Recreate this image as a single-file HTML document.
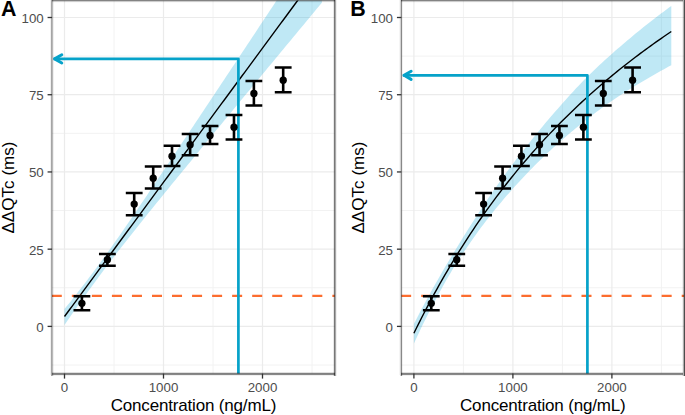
<!DOCTYPE html>
<html><head><meta charset="utf-8"><style>
html,body{margin:0;padding:0;background:#fff;}
body{width:685px;height:415px;overflow:hidden;}
svg{display:block;}
text{font-family:"Liberation Sans",sans-serif;}
.tk{font-size:13.3px;fill:#4D4D4D;}
.ti{font-size:17px;fill:#000;letter-spacing:-0.17px;}
.tag{font-size:21.4px;font-weight:bold;fill:#000;}
</style></head><body>
<svg width="685" height="415" viewBox="0 0 685 415">
<clipPath id="clip0"><rect x="51.98" y="0.5" width="282.88" height="373.1"/></clipPath>
<g clip-path="url(#clip0)"><line x1="114.00" y1="0.5" x2="114.00" y2="373.6" stroke="#F2F2F2" stroke-width="1"/><line x1="213.00" y1="0.5" x2="213.00" y2="373.6" stroke="#F2F2F2" stroke-width="1"/><line x1="312.00" y1="0.5" x2="312.00" y2="373.6" stroke="#F2F2F2" stroke-width="1"/><line x1="51.98" y1="365.01" x2="334.86" y2="365.01" stroke="#F2F2F2" stroke-width="1"/><line x1="51.98" y1="287.79" x2="334.86" y2="287.79" stroke="#F2F2F2" stroke-width="1"/><line x1="51.98" y1="210.56" x2="334.86" y2="210.56" stroke="#F2F2F2" stroke-width="1"/><line x1="51.98" y1="133.34" x2="334.86" y2="133.34" stroke="#F2F2F2" stroke-width="1"/><line x1="51.98" y1="56.11" x2="334.86" y2="56.11" stroke="#F2F2F2" stroke-width="1"/><line x1="64.50" y1="0.5" x2="64.50" y2="373.6" stroke="#EBEBEB" stroke-width="1.2"/><line x1="163.50" y1="0.5" x2="163.50" y2="373.6" stroke="#EBEBEB" stroke-width="1.2"/><line x1="262.50" y1="0.5" x2="262.50" y2="373.6" stroke="#EBEBEB" stroke-width="1.2"/><line x1="51.98" y1="326.40" x2="334.86" y2="326.40" stroke="#EBEBEB" stroke-width="1.2"/><line x1="51.98" y1="249.17" x2="334.86" y2="249.17" stroke="#EBEBEB" stroke-width="1.2"/><line x1="51.98" y1="171.95" x2="334.86" y2="171.95" stroke="#EBEBEB" stroke-width="1.2"/><line x1="51.98" y1="94.72" x2="334.86" y2="94.72" stroke="#EBEBEB" stroke-width="1.2"/><line x1="51.98" y1="17.50" x2="334.86" y2="17.50" stroke="#EBEBEB" stroke-width="1.2"/><path d="M64.50,309.09 L67.07,305.87 L69.65,302.63 L72.22,299.39 L74.80,296.13 L77.37,292.84 L79.94,289.55 L82.52,286.22 L85.09,282.88 L87.67,279.51 L90.24,276.11 L92.81,272.69 L95.39,269.24 L97.96,265.75 L100.54,262.24 L103.11,258.70 L105.68,255.13 L108.26,251.53 L110.83,247.91 L113.41,244.26 L115.98,240.59 L118.55,236.90 L121.13,233.19 L123.70,229.46 L126.28,225.72 L128.85,221.97 L131.42,218.20 L134.00,214.43 L136.57,210.64 L139.15,206.85 L141.72,203.04 L144.29,199.24 L146.87,195.42 L149.44,191.60 L152.02,187.77 L154.59,183.94 L157.16,180.11 L159.74,176.27 L162.31,172.43 L164.89,168.58 L167.46,164.74 L170.03,160.89 L172.61,157.03 L175.18,153.18 L177.76,149.32 L180.33,145.46 L182.90,141.60 L185.48,137.74 L188.05,133.88 L190.63,130.01 L193.20,126.15 L195.77,122.28 L198.35,118.41 L200.92,114.54 L203.50,110.67 L206.07,106.80 L208.64,102.93 L211.22,99.06 L213.79,95.18 L216.37,91.31 L218.94,87.43 L221.51,83.56 L224.09,79.68 L226.66,75.81 L229.24,71.93 L231.81,68.05 L234.38,64.17 L236.96,60.29 L239.53,56.42 L242.11,52.54 L244.68,48.66 L247.25,44.78 L249.83,40.90 L252.40,37.02 L254.98,33.14 L257.55,29.25 L260.12,25.37 L262.70,21.49 L265.27,17.61 L267.85,13.73 L270.42,9.84 L272.99,5.96 L275.57,2.08 L278.14,-1.80 L280.72,-5.69 L283.29,-9.57 L285.86,-13.46 L288.44,-17.34 L291.01,-21.22 L293.59,-25.11 L296.16,-28.99 L298.73,-32.88 L301.31,-36.76 L303.88,-40.65 L306.46,-44.53 L309.03,-48.42 L311.60,-52.30 L314.18,-56.19 L316.75,-60.07 L319.33,-63.96 L321.90,-67.84 L321.90,2.66 L319.33,5.76 L316.75,8.86 L314.18,11.96 L311.60,15.07 L309.03,18.17 L306.46,21.28 L303.88,24.38 L301.31,27.48 L298.73,30.59 L296.16,33.69 L293.59,36.80 L291.01,39.90 L288.44,43.01 L285.86,46.11 L283.29,49.22 L280.72,52.33 L278.14,55.43 L275.57,58.54 L272.99,61.65 L270.42,64.75 L267.85,67.86 L265.27,70.97 L262.70,74.08 L260.12,77.19 L257.55,80.30 L254.98,83.41 L252.40,86.52 L249.83,89.63 L247.25,92.74 L244.68,95.85 L242.11,98.96 L239.53,102.08 L236.96,105.19 L234.38,108.30 L231.81,111.42 L229.24,114.53 L226.66,117.65 L224.09,120.77 L221.51,123.89 L218.94,127.00 L216.37,130.12 L213.79,133.24 L211.22,136.37 L208.64,139.49 L206.07,142.61 L203.50,145.74 L200.92,148.86 L198.35,151.99 L195.77,155.12 L193.20,158.25 L190.63,161.38 L188.05,164.52 L185.48,167.65 L182.90,170.79 L180.33,173.93 L177.76,177.08 L175.18,180.22 L172.61,183.37 L170.03,186.52 L167.46,189.68 L164.89,192.83 L162.31,196.00 L159.74,199.16 L157.16,202.33 L154.59,205.51 L152.02,208.69 L149.44,211.87 L146.87,215.07 L144.29,218.27 L141.72,221.47 L139.15,224.69 L136.57,227.91 L134.00,231.14 L131.42,234.38 L128.85,237.64 L126.28,240.91 L123.70,244.19 L121.13,247.48 L118.55,250.79 L115.98,254.12 L113.41,257.46 L110.83,260.83 L108.26,264.21 L105.68,267.61 L103.11,271.04 L100.54,274.49 L97.96,277.96 L95.39,281.45 L92.81,284.97 L90.24,288.50 L87.67,292.07 L85.09,295.65 L82.52,299.25 L79.94,302.87 L77.37,306.51 L74.80,310.17 L72.22,313.84 L69.65,317.53 L67.07,321.23 L64.50,324.95Z" fill="#00A5D7" fill-opacity="0.25"/><path d="M64.50,316.52 L67.07,313.03 L69.65,309.54 L72.22,306.05 L74.80,302.56 L77.37,299.07 L79.94,295.58 L82.52,292.09 L85.09,288.60 L87.67,285.12 L90.24,281.63 L92.81,278.14 L95.39,274.65 L97.96,271.16 L100.54,267.67 L103.11,264.18 L105.68,260.69 L108.26,257.20 L110.83,253.72 L113.41,250.23 L115.98,246.74 L118.55,243.25 L121.13,239.76 L123.70,236.27 L126.28,232.78 L128.85,229.29 L131.42,225.81 L134.00,222.32 L136.57,218.83 L139.15,215.34 L141.72,211.85 L144.29,208.36 L146.87,204.87 L149.44,201.38 L152.02,197.89 L154.59,194.41 L157.16,190.92 L159.74,187.43 L162.31,183.94 L164.89,180.45 L167.46,176.96 L170.03,173.47 L172.61,169.98 L175.18,166.50 L177.76,163.01 L180.33,159.52 L182.90,156.03 L185.48,152.54 L188.05,149.05 L190.63,145.56 L193.20,142.07 L195.77,138.58 L198.35,135.10 L200.92,131.61 L203.50,128.12 L206.07,124.63 L208.64,121.14 L211.22,117.65 L213.79,114.16 L216.37,110.67 L218.94,107.18 L221.51,103.70 L224.09,100.21 L226.66,96.72 L229.24,93.23 L231.81,89.74 L234.38,86.25 L236.96,82.76 L239.53,79.27 L242.11,75.79 L244.68,72.30 L247.25,68.81 L249.83,65.32 L252.40,61.83 L254.98,58.34 L257.55,54.85 L260.12,51.36 L262.70,47.87 L265.27,44.39 L267.85,40.90 L270.42,37.41 L272.99,33.92 L275.57,30.43 L278.14,26.94 L280.72,23.45 L283.29,19.96 L285.86,16.47 L288.44,12.99 L291.01,9.50 L293.59,6.01 L296.16,2.52 L298.73,-0.97 L301.31,-4.46 L303.88,-7.95 L306.46,-11.44 L309.03,-14.92 L311.60,-18.41 L314.18,-21.90 L316.75,-25.39 L319.33,-28.88 L321.90,-32.37" fill="none" stroke="#000" stroke-width="1.4"/><line x1="51.78" y1="295.96" x2="334.86" y2="295.96" stroke="#FC6D2F" stroke-width="2.3" stroke-dasharray="10.02 10.02"/><path d="M238.40,375.6 L238.40,58.85 L53.48,58.85" fill="none" stroke="#06A2C9" stroke-width="2.7" stroke-linejoin="round"/><path d="M61.78,54.75 L54.68,58.85 L61.78,62.95" fill="none" stroke="#06A2C9" stroke-width="3" stroke-linejoin="round" stroke-linecap="round"/><line x1="81.90" y1="296.30" x2="81.90" y2="310.30" stroke="#000" stroke-width="2.6"/><line x1="73.50" y1="296.30" x2="90.30" y2="296.30" stroke="#000" stroke-width="2.5"/><line x1="73.50" y1="310.30" x2="90.30" y2="310.30" stroke="#000" stroke-width="2.5"/><circle cx="81.90" cy="303.29" r="3.65" fill="#000"/><line x1="107.37" y1="254.00" x2="107.37" y2="265.80" stroke="#000" stroke-width="2.6"/><line x1="98.97" y1="254.00" x2="115.77" y2="254.00" stroke="#000" stroke-width="2.5"/><line x1="98.97" y1="265.80" x2="115.77" y2="265.80" stroke="#000" stroke-width="2.5"/><circle cx="107.37" cy="259.68" r="3.65" fill="#000"/><line x1="134.20" y1="193.00" x2="134.20" y2="215.20" stroke="#000" stroke-width="2.6"/><line x1="125.80" y1="193.00" x2="142.60" y2="193.00" stroke="#000" stroke-width="2.5"/><line x1="125.80" y1="215.20" x2="142.60" y2="215.20" stroke="#000" stroke-width="2.5"/><circle cx="134.20" cy="204.08" r="3.65" fill="#000"/><line x1="153.20" y1="166.50" x2="153.20" y2="188.50" stroke="#000" stroke-width="2.6"/><line x1="144.80" y1="166.50" x2="161.60" y2="166.50" stroke="#000" stroke-width="2.5"/><line x1="144.80" y1="188.50" x2="161.60" y2="188.50" stroke="#000" stroke-width="2.5"/><circle cx="153.20" cy="178.13" r="3.65" fill="#000"/><line x1="172.01" y1="145.70" x2="172.01" y2="166.10" stroke="#000" stroke-width="2.6"/><line x1="163.61" y1="145.70" x2="180.41" y2="145.70" stroke="#000" stroke-width="2.5"/><line x1="163.61" y1="166.10" x2="180.41" y2="166.10" stroke="#000" stroke-width="2.5"/><circle cx="172.01" cy="156.20" r="3.65" fill="#000"/><line x1="190.13" y1="134.10" x2="190.13" y2="155.30" stroke="#000" stroke-width="2.6"/><line x1="181.73" y1="134.10" x2="198.53" y2="134.10" stroke="#000" stroke-width="2.5"/><line x1="181.73" y1="155.30" x2="198.53" y2="155.30" stroke="#000" stroke-width="2.5"/><circle cx="190.13" cy="144.77" r="3.65" fill="#000"/><line x1="210.03" y1="126.00" x2="210.03" y2="144.10" stroke="#000" stroke-width="2.6"/><line x1="201.63" y1="126.00" x2="218.43" y2="126.00" stroke="#000" stroke-width="2.5"/><line x1="201.63" y1="144.10" x2="218.43" y2="144.10" stroke="#000" stroke-width="2.5"/><circle cx="210.03" cy="135.50" r="3.65" fill="#000"/><line x1="233.99" y1="114.90" x2="233.99" y2="139.50" stroke="#000" stroke-width="2.6"/><line x1="225.59" y1="114.90" x2="242.39" y2="114.90" stroke="#000" stroke-width="2.5"/><line x1="225.59" y1="139.50" x2="242.39" y2="139.50" stroke="#000" stroke-width="2.5"/><circle cx="233.99" cy="127.16" r="3.65" fill="#000"/><line x1="253.89" y1="81.10" x2="253.89" y2="105.50" stroke="#000" stroke-width="2.6"/><line x1="245.49" y1="81.10" x2="262.29" y2="81.10" stroke="#000" stroke-width="2.5"/><line x1="245.49" y1="105.50" x2="262.29" y2="105.50" stroke="#000" stroke-width="2.5"/><circle cx="253.89" cy="93.49" r="3.65" fill="#000"/><line x1="283.19" y1="67.60" x2="283.19" y2="92.20" stroke="#000" stroke-width="2.6"/><line x1="274.79" y1="67.60" x2="291.59" y2="67.60" stroke="#000" stroke-width="2.5"/><line x1="274.79" y1="92.20" x2="291.59" y2="92.20" stroke="#000" stroke-width="2.5"/><circle cx="283.19" cy="80.21" r="3.65" fill="#000"/></g>
<rect x="50" y="0" width="1" height="375" fill="#000" fill-opacity="0.059"/>
<rect x="51" y="0" width="1" height="376" fill="#000" fill-opacity="0.353"/>
<rect x="52" y="0" width="1" height="376" fill="#000" fill-opacity="0.275"/>
<rect x="53" y="0" width="1" height="376" fill="#000" fill-opacity="0.059"/>
<rect x="333" y="0" width="1" height="376" fill="#000" fill-opacity="0.090"/>
<rect x="334" y="0" width="1" height="376" fill="#000" fill-opacity="0.533"/>
<rect x="335" y="0" width="1" height="376" fill="#000" fill-opacity="0.341"/>
<rect x="336" y="0" width="1" height="376" fill="#000" fill-opacity="0.059"/>
<rect x="52" y="372" width="283" height="1" fill="#000" fill-opacity="0.122"/>
<rect x="52" y="373" width="283" height="1" fill="#000" fill-opacity="0.498"/>
<rect x="52" y="374" width="283" height="1" fill="#000" fill-opacity="0.467"/>
<rect x="52" y="375" width="283" height="1" fill="#000" fill-opacity="0.059"/>
<rect x="52" y="0" width="283" height="1" fill="#000" fill-opacity="0.486"/>
<rect x="52" y="1" width="283" height="1" fill="#000" fill-opacity="0.196"/>
<rect x="52" y="2" width="283" height="1" fill="#000" fill-opacity="0.020"/>
<line x1="47.58" y1="326.40" x2="51.98" y2="326.40" stroke="#333" stroke-width="1.3"/>
<line x1="47.58" y1="249.17" x2="51.98" y2="249.17" stroke="#333" stroke-width="1.3"/>
<line x1="47.58" y1="171.95" x2="51.98" y2="171.95" stroke="#333" stroke-width="1.3"/>
<line x1="47.58" y1="94.72" x2="51.98" y2="94.72" stroke="#333" stroke-width="1.3"/>
<line x1="47.58" y1="17.50" x2="51.98" y2="17.50" stroke="#333" stroke-width="1.3"/>
<line x1="64.50" y1="373.60" x2="64.50" y2="378.60" stroke="#333" stroke-width="1.3"/>
<line x1="163.50" y1="373.60" x2="163.50" y2="378.60" stroke="#333" stroke-width="1.3"/>
<line x1="262.50" y1="373.60" x2="262.50" y2="378.60" stroke="#333" stroke-width="1.3"/>
<text x="43.68" y="331.80" text-anchor="end" class="tk">0</text>
<text x="43.68" y="254.57" text-anchor="end" class="tk">25</text>
<text x="43.68" y="177.35" text-anchor="end" class="tk">50</text>
<text x="43.68" y="100.12" text-anchor="end" class="tk">75</text>
<text x="43.68" y="22.90" text-anchor="end" class="tk">100</text>
<text x="64.50" y="392.30" text-anchor="middle" class="tk">0</text>
<text x="163.50" y="392.30" text-anchor="middle" class="tk">1000</text>
<text x="262.50" y="392.30" text-anchor="middle" class="tk">2000</text>
<text x="193.42" y="411.3" text-anchor="middle" class="ti">Concentration (ng/mL)</text>
<text transform="translate(14.18,187.5) rotate(-90)" x="0" y="0" text-anchor="middle" class="ti" style="letter-spacing:0.05px">ΔΔQTc (ms)</text>
<text x="0.98" y="16" class="tag">A</text>
<clipPath id="clip1"><rect x="401.33" y="0.5" width="282.96999999999997" height="373.1"/></clipPath>
<g clip-path="url(#clip1)"><line x1="463.40" y1="0.5" x2="463.40" y2="373.6" stroke="#F2F2F2" stroke-width="1"/><line x1="562.40" y1="0.5" x2="562.40" y2="373.6" stroke="#F2F2F2" stroke-width="1"/><line x1="661.40" y1="0.5" x2="661.40" y2="373.6" stroke="#F2F2F2" stroke-width="1"/><line x1="401.33" y1="365.01" x2="684.3" y2="365.01" stroke="#F2F2F2" stroke-width="1"/><line x1="401.33" y1="287.79" x2="684.3" y2="287.79" stroke="#F2F2F2" stroke-width="1"/><line x1="401.33" y1="210.56" x2="684.3" y2="210.56" stroke="#F2F2F2" stroke-width="1"/><line x1="401.33" y1="133.34" x2="684.3" y2="133.34" stroke="#F2F2F2" stroke-width="1"/><line x1="401.33" y1="56.11" x2="684.3" y2="56.11" stroke="#F2F2F2" stroke-width="1"/><line x1="413.90" y1="0.5" x2="413.90" y2="373.6" stroke="#EBEBEB" stroke-width="1.2"/><line x1="512.90" y1="0.5" x2="512.90" y2="373.6" stroke="#EBEBEB" stroke-width="1.2"/><line x1="611.90" y1="0.5" x2="611.90" y2="373.6" stroke="#EBEBEB" stroke-width="1.2"/><line x1="401.33" y1="326.40" x2="684.3" y2="326.40" stroke="#EBEBEB" stroke-width="1.2"/><line x1="401.33" y1="249.17" x2="684.3" y2="249.17" stroke="#EBEBEB" stroke-width="1.2"/><line x1="401.33" y1="171.95" x2="684.3" y2="171.95" stroke="#EBEBEB" stroke-width="1.2"/><line x1="401.33" y1="94.72" x2="684.3" y2="94.72" stroke="#EBEBEB" stroke-width="1.2"/><line x1="401.33" y1="17.50" x2="684.3" y2="17.50" stroke="#EBEBEB" stroke-width="1.2"/><path d="M413.90,323.96 L416.47,318.93 L419.05,313.96 L421.62,309.06 L424.20,304.23 L426.77,299.45 L429.34,294.73 L431.92,290.07 L434.49,285.45 L437.07,280.90 L439.64,276.42 L442.21,271.99 L444.79,267.62 L447.36,263.29 L449.94,259.00 L452.51,254.73 L455.08,250.49 L457.66,246.26 L460.23,242.03 L462.81,237.84 L465.38,233.68 L467.95,229.56 L470.53,225.49 L473.10,221.44 L475.68,217.40 L478.25,213.40 L480.82,209.45 L483.40,205.54 L485.97,201.69 L488.55,197.87 L491.12,194.09 L493.69,190.35 L496.27,186.65 L498.84,182.99 L501.42,179.37 L503.99,175.80 L506.56,172.28 L509.14,168.79 L511.71,165.35 L514.29,161.94 L516.86,158.57 L519.43,155.23 L522.01,151.93 L524.58,148.65 L527.16,145.41 L529.73,142.18 L532.30,138.98 L534.88,135.81 L537.45,132.66 L540.03,129.54 L542.60,126.44 L545.17,123.37 L547.75,120.32 L550.32,117.30 L552.90,114.30 L555.47,111.34 L558.04,108.40 L560.62,105.48 L563.19,102.58 L565.77,99.69 L568.34,96.81 L570.91,93.96 L573.49,91.15 L576.06,88.37 L578.64,85.64 L581.21,82.96 L583.78,80.34 L586.36,77.76 L588.93,75.21 L591.51,72.70 L594.08,70.23 L596.65,67.78 L599.23,65.36 L601.80,62.96 L604.38,60.59 L606.95,58.25 L609.52,55.93 L612.10,53.64 L614.67,51.37 L617.25,49.12 L619.82,46.89 L622.39,44.67 L624.97,42.48 L627.54,40.30 L630.12,38.14 L632.69,35.99 L635.26,33.87 L637.84,31.76 L640.41,29.68 L642.99,27.60 L645.56,25.55 L648.13,23.51 L650.71,21.49 L653.28,19.49 L655.86,17.50 L658.43,15.53 L661.00,13.57 L663.58,11.63 L666.15,9.70 L668.73,7.79 L671.30,5.90 L671.30,65.21 L668.73,66.60 L666.15,68.01 L663.58,69.43 L661.00,70.86 L658.43,72.30 L655.86,73.76 L653.28,75.23 L650.71,76.71 L648.13,78.20 L645.56,79.71 L642.99,81.23 L640.41,82.76 L637.84,84.30 L635.26,85.85 L632.69,87.42 L630.12,89.01 L627.54,90.62 L624.97,92.25 L622.39,93.91 L619.82,95.59 L617.25,97.30 L614.67,99.02 L612.10,100.77 L609.52,102.54 L606.95,104.34 L604.38,106.17 L601.80,108.02 L599.23,109.90 L596.65,111.82 L594.08,113.76 L591.51,115.73 L588.93,117.72 L586.36,119.73 L583.78,121.77 L581.21,123.82 L578.64,125.90 L576.06,128.00 L573.49,130.13 L570.91,132.28 L568.34,134.46 L565.77,136.66 L563.19,138.89 L560.62,141.15 L558.04,143.44 L555.47,145.75 L552.90,148.09 L550.32,150.46 L547.75,152.85 L545.17,155.28 L542.60,157.74 L540.03,160.23 L537.45,162.76 L534.88,165.31 L532.30,167.91 L529.73,170.54 L527.16,173.20 L524.58,175.90 L522.01,178.64 L519.43,181.42 L516.86,184.23 L514.29,187.08 L511.71,189.97 L509.14,192.89 L506.56,195.86 L503.99,198.86 L501.42,201.91 L498.84,204.99 L496.27,208.10 L493.69,211.26 L491.12,214.47 L488.55,217.73 L485.97,221.05 L483.40,224.42 L480.82,227.86 L478.25,231.35 L475.68,234.89 L473.10,238.50 L470.53,242.16 L467.95,245.89 L465.38,249.65 L462.81,253.45 L460.23,257.31 L457.66,261.27 L455.08,265.35 L452.51,269.57 L449.94,273.90 L447.36,278.33 L444.79,282.86 L442.21,287.47 L439.64,292.16 L437.07,296.92 L434.49,301.74 L431.92,306.63 L429.34,311.62 L426.77,316.69 L424.20,321.86 L421.62,327.11 L419.05,332.46 L416.47,337.89 L413.90,343.42Z" fill="#00A5D7" fill-opacity="0.25"/><path d="M413.90,333.23 L416.47,328.00 L419.05,322.84 L421.62,317.77 L424.20,312.76 L426.77,307.83 L429.34,302.97 L431.92,298.18 L434.49,293.45 L437.07,288.79 L439.64,284.20 L442.21,279.67 L444.79,275.20 L447.36,270.79 L449.94,266.44 L452.51,262.15 L455.08,257.92 L457.66,253.74 L460.23,249.62 L462.81,245.55 L465.38,241.54 L467.95,237.57 L470.53,233.66 L473.10,229.80 L475.68,225.98 L478.25,222.22 L480.82,218.50 L483.40,214.83 L485.97,211.20 L488.55,207.62 L491.12,204.08 L493.69,200.58 L496.27,197.13 L498.84,193.72 L501.42,190.35 L503.99,187.01 L506.56,183.72 L509.14,180.47 L511.71,177.25 L514.29,174.07 L516.86,170.93 L519.43,167.82 L522.01,164.75 L524.58,161.72 L527.16,158.71 L529.73,155.74 L532.30,152.81 L534.88,149.90 L537.45,147.03 L540.03,144.19 L542.60,141.38 L545.17,138.60 L547.75,135.86 L550.32,133.14 L552.90,130.44 L555.47,127.78 L558.04,125.15 L560.62,122.54 L563.19,119.96 L565.77,117.41 L568.34,114.88 L570.91,112.38 L573.49,109.91 L576.06,107.46 L578.64,105.03 L581.21,102.63 L583.78,100.26 L586.36,97.90 L588.93,95.57 L591.51,93.27 L594.08,90.98 L596.65,88.72 L599.23,86.48 L601.80,84.26 L604.38,82.07 L606.95,79.89 L609.52,77.73 L612.10,75.60 L614.67,73.49 L617.25,71.39 L619.82,69.32 L622.39,67.26 L624.97,65.22 L627.54,63.20 L630.12,61.21 L632.69,59.22 L635.26,57.26 L637.84,55.32 L640.41,53.39 L642.99,51.48 L645.56,49.58 L648.13,47.71 L650.71,45.85 L653.28,44.00 L655.86,42.17 L658.43,40.36 L661.00,38.57 L663.58,36.79 L666.15,35.02 L668.73,33.27 L671.30,31.54" fill="none" stroke="#000" stroke-width="1.4"/><line x1="401.13" y1="295.96" x2="684.3" y2="295.96" stroke="#FC6D2F" stroke-width="2.3" stroke-dasharray="10.02 10.02"/><path d="M587.40,375.6 L587.40,75.30 L402.83,75.30" fill="none" stroke="#06A2C9" stroke-width="2.7" stroke-linejoin="round"/><path d="M411.13,71.20 L404.03,75.30 L411.13,79.40" fill="none" stroke="#06A2C9" stroke-width="3" stroke-linejoin="round" stroke-linecap="round"/><line x1="431.30" y1="296.30" x2="431.30" y2="310.30" stroke="#000" stroke-width="2.6"/><line x1="422.90" y1="296.30" x2="439.70" y2="296.30" stroke="#000" stroke-width="2.5"/><line x1="422.90" y1="310.30" x2="439.70" y2="310.30" stroke="#000" stroke-width="2.5"/><circle cx="431.30" cy="303.29" r="3.65" fill="#000"/><line x1="456.77" y1="254.00" x2="456.77" y2="265.80" stroke="#000" stroke-width="2.6"/><line x1="448.37" y1="254.00" x2="465.17" y2="254.00" stroke="#000" stroke-width="2.5"/><line x1="448.37" y1="265.80" x2="465.17" y2="265.80" stroke="#000" stroke-width="2.5"/><circle cx="456.77" cy="259.68" r="3.65" fill="#000"/><line x1="483.60" y1="193.00" x2="483.60" y2="215.20" stroke="#000" stroke-width="2.6"/><line x1="475.20" y1="193.00" x2="492.00" y2="193.00" stroke="#000" stroke-width="2.5"/><line x1="475.20" y1="215.20" x2="492.00" y2="215.20" stroke="#000" stroke-width="2.5"/><circle cx="483.60" cy="204.08" r="3.65" fill="#000"/><line x1="502.60" y1="166.50" x2="502.60" y2="188.50" stroke="#000" stroke-width="2.6"/><line x1="494.20" y1="166.50" x2="511.00" y2="166.50" stroke="#000" stroke-width="2.5"/><line x1="494.20" y1="188.50" x2="511.00" y2="188.50" stroke="#000" stroke-width="2.5"/><circle cx="502.60" cy="178.13" r="3.65" fill="#000"/><line x1="521.41" y1="145.70" x2="521.41" y2="166.10" stroke="#000" stroke-width="2.6"/><line x1="513.01" y1="145.70" x2="529.81" y2="145.70" stroke="#000" stroke-width="2.5"/><line x1="513.01" y1="166.10" x2="529.81" y2="166.10" stroke="#000" stroke-width="2.5"/><circle cx="521.41" cy="156.20" r="3.65" fill="#000"/><line x1="539.53" y1="134.10" x2="539.53" y2="155.30" stroke="#000" stroke-width="2.6"/><line x1="531.13" y1="134.10" x2="547.93" y2="134.10" stroke="#000" stroke-width="2.5"/><line x1="531.13" y1="155.30" x2="547.93" y2="155.30" stroke="#000" stroke-width="2.5"/><circle cx="539.53" cy="144.77" r="3.65" fill="#000"/><line x1="559.43" y1="126.00" x2="559.43" y2="144.10" stroke="#000" stroke-width="2.6"/><line x1="551.03" y1="126.00" x2="567.83" y2="126.00" stroke="#000" stroke-width="2.5"/><line x1="551.03" y1="144.10" x2="567.83" y2="144.10" stroke="#000" stroke-width="2.5"/><circle cx="559.43" cy="135.50" r="3.65" fill="#000"/><line x1="583.39" y1="114.90" x2="583.39" y2="139.50" stroke="#000" stroke-width="2.6"/><line x1="574.99" y1="114.90" x2="591.79" y2="114.90" stroke="#000" stroke-width="2.5"/><line x1="574.99" y1="139.50" x2="591.79" y2="139.50" stroke="#000" stroke-width="2.5"/><circle cx="583.39" cy="127.16" r="3.65" fill="#000"/><line x1="603.29" y1="81.10" x2="603.29" y2="105.50" stroke="#000" stroke-width="2.6"/><line x1="594.89" y1="81.10" x2="611.69" y2="81.10" stroke="#000" stroke-width="2.5"/><line x1="594.89" y1="105.50" x2="611.69" y2="105.50" stroke="#000" stroke-width="2.5"/><circle cx="603.29" cy="93.49" r="3.65" fill="#000"/><line x1="632.59" y1="67.60" x2="632.59" y2="92.20" stroke="#000" stroke-width="2.6"/><line x1="624.19" y1="67.60" x2="640.99" y2="67.60" stroke="#000" stroke-width="2.5"/><line x1="624.19" y1="92.20" x2="640.99" y2="92.20" stroke="#000" stroke-width="2.5"/><circle cx="632.59" cy="80.21" r="3.65" fill="#000"/></g>
<rect x="399" y="0" width="1" height="375" fill="#000" fill-opacity="0.039"/>
<rect x="400" y="0" width="1" height="376" fill="#000" fill-opacity="0.176"/>
<rect x="401" y="0" width="1" height="376" fill="#000" fill-opacity="0.467"/>
<rect x="402" y="0" width="1" height="376" fill="#000" fill-opacity="0.059"/>
<rect x="682" y="0" width="1" height="376" fill="#000" fill-opacity="0.059"/>
<rect x="683" y="0" width="1" height="376" fill="#000" fill-opacity="0.310"/>
<rect x="684" y="0" width="1" height="376" fill="#000" fill-opacity="0.698"/>
<rect x="401" y="372" width="282" height="1" fill="#000" fill-opacity="0.122"/>
<rect x="401" y="373" width="282" height="1" fill="#000" fill-opacity="0.498"/>
<rect x="401" y="374" width="282" height="1" fill="#000" fill-opacity="0.467"/>
<rect x="401" y="375" width="282" height="1" fill="#000" fill-opacity="0.059"/>
<rect x="401" y="0" width="282" height="1" fill="#000" fill-opacity="0.486"/>
<rect x="401" y="1" width="282" height="1" fill="#000" fill-opacity="0.196"/>
<rect x="401" y="2" width="282" height="1" fill="#000" fill-opacity="0.020"/>
<line x1="396.93" y1="326.40" x2="401.33" y2="326.40" stroke="#333" stroke-width="1.3"/>
<line x1="396.93" y1="249.17" x2="401.33" y2="249.17" stroke="#333" stroke-width="1.3"/>
<line x1="396.93" y1="171.95" x2="401.33" y2="171.95" stroke="#333" stroke-width="1.3"/>
<line x1="396.93" y1="94.72" x2="401.33" y2="94.72" stroke="#333" stroke-width="1.3"/>
<line x1="396.93" y1="17.50" x2="401.33" y2="17.50" stroke="#333" stroke-width="1.3"/>
<line x1="413.90" y1="373.60" x2="413.90" y2="378.60" stroke="#333" stroke-width="1.3"/>
<line x1="512.90" y1="373.60" x2="512.90" y2="378.60" stroke="#333" stroke-width="1.3"/>
<line x1="611.90" y1="373.60" x2="611.90" y2="378.60" stroke="#333" stroke-width="1.3"/>
<text x="393.03" y="331.80" text-anchor="end" class="tk">0</text>
<text x="393.03" y="254.57" text-anchor="end" class="tk">25</text>
<text x="393.03" y="177.35" text-anchor="end" class="tk">50</text>
<text x="393.03" y="100.12" text-anchor="end" class="tk">75</text>
<text x="393.03" y="22.90" text-anchor="end" class="tk">100</text>
<text x="413.90" y="392.30" text-anchor="middle" class="tk">0</text>
<text x="512.90" y="392.30" text-anchor="middle" class="tk">1000</text>
<text x="611.90" y="392.30" text-anchor="middle" class="tk">2000</text>
<text x="542.81" y="411.3" text-anchor="middle" class="ti">Concentration (ng/mL)</text>
<text transform="translate(363.53,187.5) rotate(-90)" x="0" y="0" text-anchor="middle" class="ti" style="letter-spacing:0.05px">ΔΔQTc (ms)</text>
<text x="350.33" y="16" class="tag">B</text>
</svg>
</body></html>
